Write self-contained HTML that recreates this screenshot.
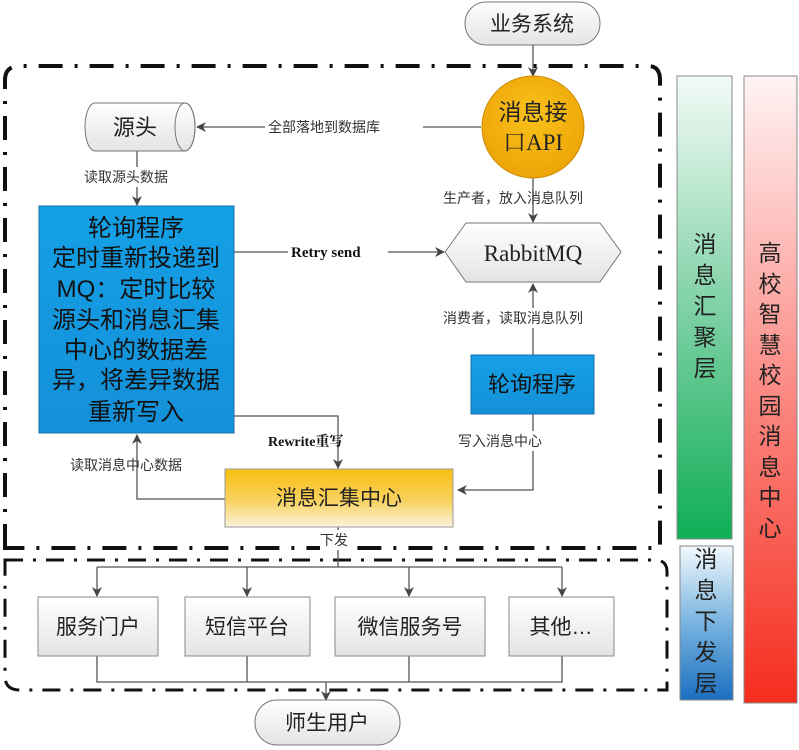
<!DOCTYPE html>
<html><head><meta charset="utf-8"><style>
html,body{margin:0;padding:0;background:#fff;}
svg{display:block;}
text{font-family:"Liberation Sans","Noto Sans CJK SC",sans-serif;}
.s{font-family:"Liberation Serif","Noto Serif CJK SC",serif;}
</style></head><body>
<svg width="799" height="750" viewBox="0 0 799 750" xmlns="http://www.w3.org/2000/svg">
<defs>
<marker id="a" markerWidth="10" markerHeight="10" refX="9" refY="5" orient="auto" markerUnits="userSpaceOnUse"><path d="M0,0 L10,5 L0,10 L3,5 Z" fill="#444"/></marker>
<linearGradient id="gw" x1="0" y1="0" x2="0" y2="1"><stop offset="0" stop-color="#fff"/><stop offset="1" stop-color="#e4e4e4"/></linearGradient>
<linearGradient id="gb" x1="0" y1="0" x2="0" y2="1"><stop offset="0" stop-color="#14a0e6"/><stop offset="1" stop-color="#1490d8"/></linearGradient>
<linearGradient id="gy" x1="0" y1="0" x2="0" y2="1"><stop offset="0" stop-color="#f9be10"/><stop offset="0.55" stop-color="#f8d260"/><stop offset="1" stop-color="#fbf3dc"/></linearGradient>
<linearGradient id="gg" x1="0" y1="0" x2="0" y2="1"><stop offset="0" stop-color="#f4fbf7"/><stop offset="0.5" stop-color="#7fd1a6"/><stop offset="1" stop-color="#0fae55"/></linearGradient>
<linearGradient id="gr" x1="0" y1="0" x2="0" y2="1"><stop offset="0" stop-color="#fff4f4"/><stop offset="0.5" stop-color="#fb8a84"/><stop offset="1" stop-color="#f52d1e"/></linearGradient>
<linearGradient id="gd" x1="0" y1="0" x2="0" y2="1"><stop offset="0" stop-color="#f2f8fc"/><stop offset="0.5" stop-color="#78b4e0"/><stop offset="1" stop-color="#1b6fc0"/></linearGradient>
<radialGradient id="gc" cx="0.5" cy="0.4" r="0.6"><stop offset="0" stop-color="#f9c21a"/><stop offset="1" stop-color="#eda408"/></radialGradient>
</defs>

<path d="M5,548 L5,80 Q5,66 20,66 L648,66 Q660,66 660,80 L660,548 Z" fill="none" stroke="#111" stroke-width="4" stroke-dasharray="24,12,3,12"/>
<path d="M5,560 L655,560 Q667,560 667,572 L667,690 L20,690 Q5,690 5,676 Z" fill="none" stroke="#111" stroke-width="3" stroke-dasharray="18,10,3,10"/>

<rect x="677" y="76" width="55" height="463" fill="url(#gg)" stroke="#888"/>
<rect x="744" y="76" width="53" height="627" fill="url(#gr)" stroke="#888"/>
<rect x="680" y="546" width="53" height="154" fill="url(#gd)" stroke="#888"/>
<g font-size="23" fill="#222" text-anchor="middle">
<text x="705" y="252">消</text><text x="705" y="283">息</text><text x="705" y="314">汇</text><text x="705" y="345">聚</text><text x="705" y="376">层</text>
<text x="770" y="261">高</text><text x="770" y="292">校</text><text x="770" y="322">智</text><text x="770" y="353">慧</text><text x="770" y="383">校</text><text x="770" y="414">园</text><text x="770" y="444">消</text><text x="770" y="475">息</text><text x="770" y="505">中</text><text x="770" y="536">心</text>
<text x="706" y="567">消</text><text x="706" y="598">息</text><text x="706" y="629">下</text><text x="706" y="660">发</text><text x="706" y="691">层</text>
</g>

<g stroke="#555" stroke-width="1.3" fill="none">
<line x1="533" y1="45" x2="533" y2="76" marker-end="url(#a)"/>
<line x1="481" y1="127" x2="197" y2="127" marker-end="url(#a)"/>
<line x1="137" y1="151" x2="137" y2="205" marker-end="url(#a)"/>
<line x1="533" y1="178" x2="533" y2="222" marker-end="url(#a)"/>
<line x1="234" y1="252" x2="444" y2="252" marker-end="url(#a)"/>
<line x1="533" y1="355" x2="533" y2="284" marker-end="url(#a)"/>
<polyline points="533,414 533,490 458,490" marker-end="url(#a)"/>
<polyline points="234,416 338,416 338,468" marker-end="url(#a)"/>
<polyline points="225,499 137,499 137,435" marker-end="url(#a)"/>
<line x1="338" y1="527" x2="338" y2="567"/>
<line x1="97" y1="567" x2="562" y2="567"/>
<line x1="97" y1="567" x2="97" y2="596" marker-end="url(#a)"/>
<line x1="247" y1="567" x2="247" y2="596" marker-end="url(#a)"/>
<line x1="409" y1="567" x2="409" y2="596" marker-end="url(#a)"/>
<line x1="562" y1="567" x2="562" y2="596" marker-end="url(#a)"/>
<polyline points="97,656 97,682 562,682 562,656"/>
<line x1="247" y1="656" x2="247" y2="682"/>
<line x1="409" y1="656" x2="409" y2="682"/>
<line x1="326" y1="682" x2="326" y2="700" marker-end="url(#a)"/>
</g>

<g font-size="14" fill="#333">
<rect x="265" y="117" width="158" height="20" fill="#fff"/>
<text x="268" y="132">全部落地到数据库</text>
<rect x="82" y="167" width="108" height="20" fill="#fff"/>
<text x="84" y="182">读取源头数据</text>
<text x="443" y="203">生产者，放入消息队列</text>
<rect x="440" y="308" width="180" height="20" fill="#fff"/>
<text x="443" y="323">消费者，读取消息队列</text>
<rect x="455" y="431" width="110" height="20" fill="#fff"/>
<text x="458" y="446">写入消息中心</text>
<text x="70" y="470">读取消息中心数据</text>
<rect x="320" y="530" width="36" height="20" fill="#fff"/>
<text x="320" y="545">下发</text>
</g>
<rect x="288" y="242" width="100" height="20" fill="#fff"/>
<text x="291" y="257" class="s" font-size="15" font-weight="bold" fill="#111">Retry send</text>
<text x="268" y="446" class="s" font-size="14" font-weight="bold" fill="#111">Rewrite重写</text>

<rect x="465" y="2" width="135" height="43" rx="21" fill="url(#gw)" stroke="#777"/>
<text x="532" y="31" font-size="21" text-anchor="middle" fill="#222">业务系统</text>

<circle cx="533" cy="127" r="51" fill="url(#gc)" stroke="#c88a00"/>
<text x="533" y="120" font-size="23" text-anchor="middle" fill="#222">消息接</text>
<text x="533" y="150" font-size="23" text-anchor="middle" fill="#222" class="s">口API</text>

<path d="M95,103 L185,103 A10,24 0 0 1 185,151 L95,151 A10,24 0 0 1 95,103 Z" fill="url(#gw)" stroke="#777"/>
<ellipse cx="185" cy="127" rx="10" ry="24" fill="none" stroke="#777"/>
<text x="135" y="135" font-size="22" text-anchor="middle" fill="#222">源头</text>

<rect x="39" y="206" width="195" height="227" fill="url(#gb)" stroke="#1a6fa8"/>
<g font-size="24" fill="#111" text-anchor="middle">
<text x="136" y="236">轮询程序</text>
<text x="136" y="266">定时重新投递到</text>
<text x="136" y="297">MQ：定时比较</text>
<text x="136" y="328">源头和消息汇集</text>
<text x="136" y="358">中心的数据差</text>
<text x="136" y="388">异，将差异数据</text>
<text x="136" y="420">重新写入</text>
</g>

<polygon points="445,252 466,223 600,223 621,252 600,282 466,282" fill="url(#gw)" stroke="#777"/>
<text x="533" y="261" class="s" font-size="23" text-anchor="middle" fill="#222">RabbitMQ</text>

<rect x="471" y="355" width="123" height="59" fill="url(#gb)" stroke="#1a6fa8"/>
<text x="532" y="392" font-size="22" text-anchor="middle" fill="#111">轮询程序</text>

<rect x="225" y="469" width="228" height="58" fill="url(#gy)" stroke="#999"/>
<text x="339" y="505" font-size="21" text-anchor="middle" fill="#222">消息汇集中心</text>

<g fill="url(#gw)" stroke="#888">
<rect x="38" y="597" width="120" height="59"/>
<rect x="185" y="597" width="125" height="59"/>
<rect x="335" y="597" width="150" height="59"/>
<rect x="509" y="597" width="105" height="59"/>
</g>
<g font-size="21" fill="#222" text-anchor="middle">
<text x="98" y="634">服务门户</text>
<text x="247" y="634">短信平台</text>
<text x="410" y="634">微信服务号</text>
<text x="561" y="634">其他…</text>
</g>

<rect x="255" y="700" width="145" height="45" rx="22" fill="url(#gw)" stroke="#777"/>
<text x="327" y="730" font-size="21" text-anchor="middle" fill="#222">师生用户</text>
</svg>
</body></html>
